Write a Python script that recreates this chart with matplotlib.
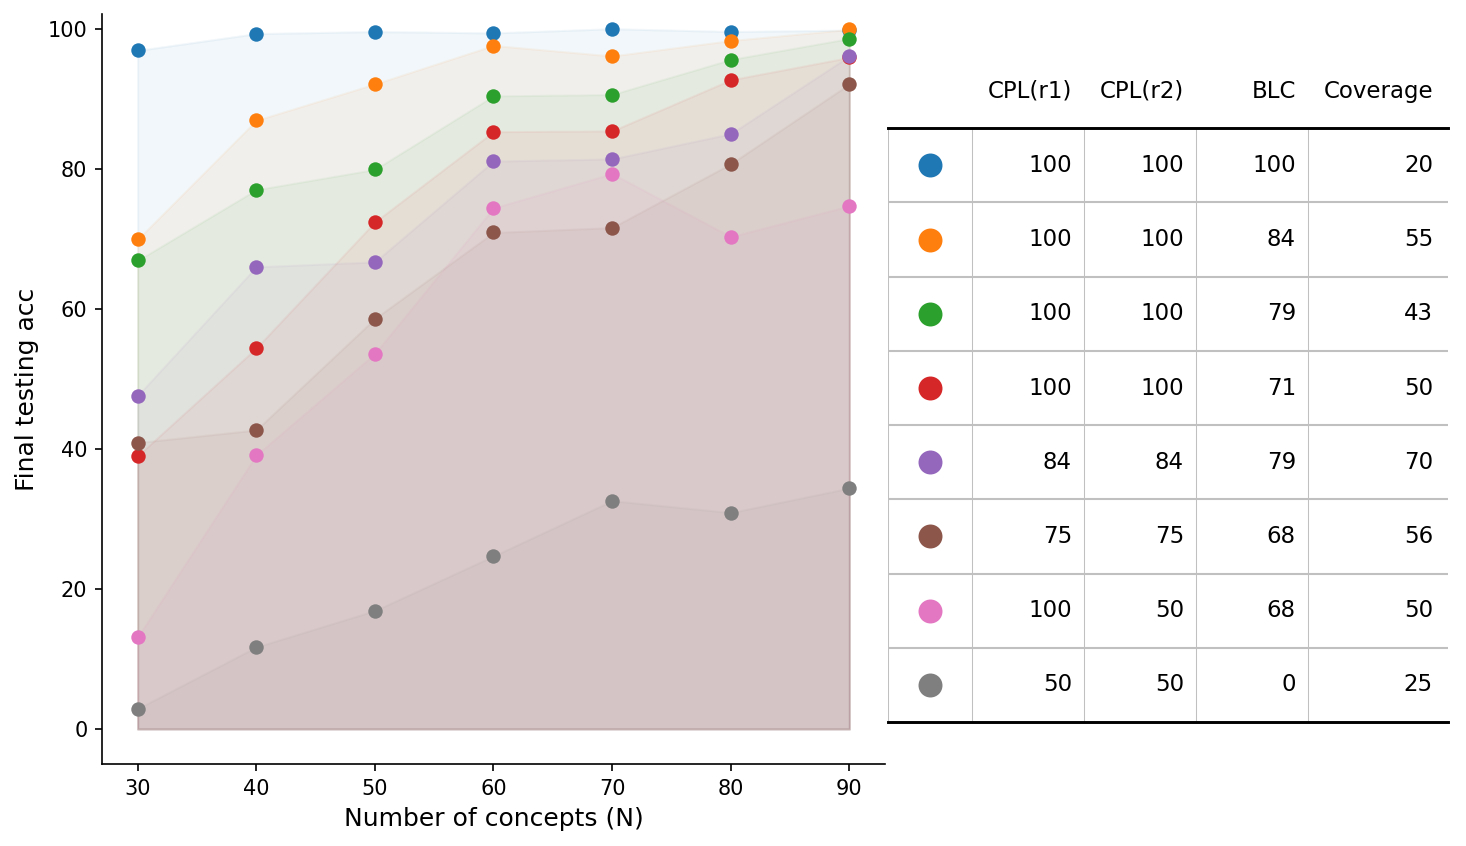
import numpy as np
import matplotlib
matplotlib.use('Agg')
from matplotlib import pyplot as plt

# number of concepts
n_concepts = [30, 40, 50, 60, 70, 80, 90]

# final testing accuracy of each setting
acc_blue = [96.9, 99.3, 99.6, 99.4, 100.0, 99.6, 99.8]
acc_orange = [69.9, 86.9, 92.1, 97.6, 96.1, 98.3, 99.9]
acc_green = [66.9, 77.0, 79.9, 90.4, 90.6, 95.6, 98.6]
acc_red = [39.0, 54.4, 72.4, 85.3, 85.4, 92.7, 95.9]
acc_purple = [47.6, 66.0, 66.7, 81.1, 81.4, 85.0, 96.1]
acc_brown = [40.9, 42.7, 58.6, 70.9, 71.6, 80.7, 92.1]
acc_pink = [13.1, 39.1, 53.6, 74.4, 79.3, 70.3, 74.7]
acc_gray = [2.9, 11.7, 16.9, 24.7, 32.6, 30.9, 34.4]

# table on the right
col_names = ['CPL(r1)', 'CPL(r2)', 'BLC', 'Coverage']
cpl_r1 = [100, 100, 100, 100, 84, 75, 100, 50]
cpl_r2 = [100, 100, 100, 100, 84, 75, 50, 50]
blc = [100, 84, 79, 71, 79, 68, 68, 0]
coverage = [20, 55, 43, 50, 70, 56, 50, 25]

series = [acc_blue, acc_orange, acc_green, acc_red,
          acc_purple, acc_brown, acc_pink, acc_gray]
colors = ['#1f77b4', '#ff7f0e', '#2ca02c', '#d62728',
          '#9467bd', '#8c564b', '#e377c2', '#7f7f7f']

fig = plt.figure(figsize=(1466 / 150, 846 / 150), dpi=150)
ax = fig.add_axes([102 / 1466, 82 / 846, 783 / 1466, 750 / 846])

for i, (acc, c) in enumerate(zip(series, colors)):
    ax.fill_between(n_concepts, 0, acc, color=c, alpha=0.06, linewidth=1)
for i, (acc, c) in enumerate(zip(series, colors)):
    ax.scatter(n_concepts, acc, color=c, s=48, zorder=3 + i, linewidths=0)

ax.set_xlim(27, 93)
ax.set_ylim(-5, 102.1)
ax.set_xticks(n_concepts)
ax.set_yticks([0, 20, 40, 60, 80, 100])
ax.spines['top'].set_visible(False)
ax.spines['right'].set_visible(False)
ax.tick_params(axis='both', labelsize=10)
ax.set_xlabel('Number of concepts (N)', fontsize=12)
ax.set_ylabel('Final testing acc', fontsize=12)

# 表格
tab = fig.add_axes([888 / 1466, 124 / 846, 560 / 1466, 668 / 846])
tab.set_xlim(0, 560)
tab.set_ylim(8, -1)
tab.axis('off')

col_edges = [0, 84, 196, 308, 420, 560]
text_right = [184, 296, 408, 545]
values = [cpl_r1, cpl_r2, blc, coverage]

for name, xr in zip(col_names, text_right):
    tab.text(xr, -0.5, name, ha='right', va='center', fontsize=11)

for r in range(len(colors)):
    tab.plot(42, r + 0.5, 'o', color=colors[r], markersize=10.5)
    for vals, xr in zip(values, text_right):
        tab.text(xr, r + 0.5, str(vals[r]), ha='right', va='center', fontsize=11)

for r in range(1, len(colors)):
    tab.plot([0, 560], [r, r], color='#c0c0c0', lw=1.0, zorder=1)
for xe in col_edges[:-1]:
    tab.plot([xe, xe], [0, 8], color='#c0c0c0', lw=0.5, zorder=1)
tab.plot([0, 560], [0, 0], color='black', lw=1.4, zorder=3, clip_on=False)
tab.plot([0, 560], [8, 8], color='black', lw=1.4, zorder=3, clip_on=False)

plt.savefig('out.png', dpi=150)
